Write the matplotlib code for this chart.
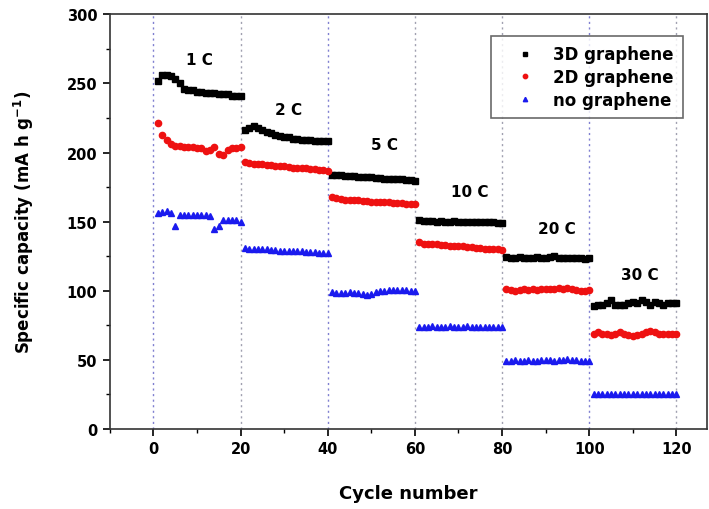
import numpy as np
import matplotlib
matplotlib.use('Agg')
import matplotlib.pyplot as plt
from matplotlib.ticker import MultipleLocator

plt.rcParams['font.family'] = ['DejaVu Sans']
plt.rcParams['font.weight'] = 'bold'
plt.rcParams['mathtext.default'] = 'bf'

# cycle numbers 1..120, six rate steps of 20 cycles
cycles = list(range(1, 121))

cap_3d = [252, 256, 256, 255, 253, 250, 246, 245, 245, 244, 244, 243, 243, 243, 242, 242, 242, 241, 241, 241,
          216, 218, 219, 218, 216, 215, 214, 213, 212, 211, 211, 210, 210, 209, 209, 209, 208, 208, 208, 208,
          184, 184, 183.5, 183, 183, 183, 182.5, 182, 182, 182, 181.5, 181.5, 181, 181, 181, 180.5, 180.5, 180, 180, 179.5,
          151, 150.5, 150.5, 150.5, 150, 150.5, 150, 150, 150.5, 150, 149.5, 150, 150, 149.5, 150, 149.5, 149.5, 149.5, 149, 149,
          124.5, 124, 124, 124.5, 124, 123.5, 124, 124.5, 124, 124, 124.5, 125, 124, 124, 123.5, 124, 124, 123.5, 123, 123.5,
          89, 90, 90, 91, 93, 90, 90, 90, 91, 92, 91, 93, 92, 90, 92, 91, 90, 91, 91, 91]

cap_2d = [221, 213, 209, 206, 205, 205, 204, 204, 204, 203, 203, 201, 202, 204, 199, 198, 202, 203, 203, 204,
          193, 192.5, 192, 192, 191.5, 191, 191, 190.5, 190, 190, 189.5, 189, 189, 188.5, 188.5, 188, 188, 187.5, 187, 186.5,
          168, 167, 166.5, 166, 166, 165.5, 165.5, 165, 165, 164.5, 164.5, 164, 164, 164, 163.5, 163.5, 163.5, 163, 163, 163,
          135, 134, 134, 133.5, 133.5, 133, 133, 132.5, 132.5, 132, 132, 131.5, 131.5, 131, 131, 130.5, 130.5, 130, 130, 129.5,
          101, 100.5, 100, 100.5, 101, 100.5, 101, 100.5, 101, 101.5, 101, 101.5, 102, 101, 102, 101.5, 100.5, 100, 100, 100.5,
          69, 70, 69, 69, 68, 69, 70, 69, 68, 67, 68, 69, 70, 71, 70, 69, 69, 69, 69, 69]

cap_none = [156, 157, 158, 156, 147, 155, 155, 155, 155, 155, 155, 155, 154, 145, 147, 151, 151, 151, 151, 150,
            131, 130.5, 130.5, 130, 130, 130, 129.5, 129.5, 129, 129, 129, 128.5, 128.5, 128.5, 128, 128, 128, 127.5, 127.5, 127,
            99, 98.5, 98.5, 98.5, 99, 98.5, 98, 97.5, 97, 97.5, 99, 99.5, 100, 100.5, 100.5, 100.5, 100.5, 100.5, 100, 100,
            74, 74, 74, 74.5, 74, 74, 74, 74.5, 74, 74, 74, 74.5, 74, 74, 73.5, 74, 74, 74, 73.5, 74,
            49.5, 49.5, 50, 49.5, 49.5, 50, 49.5, 49.5, 50, 50, 50, 49.5, 50, 50, 50.5, 50, 50, 49.5, 49.5, 49,
            25, 25.5, 25, 25, 25.5, 25, 25.5, 25.5, 25, 25, 25.5, 25, 25, 25.5, 25, 25, 25, 25.5, 25, 25]

rate_labels = ['1 C', '2 C', '5 C', '10 C', '20 C', '30 C']
label_x = [10.5, 31, 53, 72.5, 92.5, 111.5]
label_y = [267, 231, 206, 172, 145, 112]
boundaries = [0, 20, 40, 60, 80, 100, 120]
boundary_colors = ['#7f7fd0', '#a0a0b0', '#7f7fd0', '#a0a0b0', '#a0a0b0', '#7f7fd0', '#a0a0b0']

fig = plt.figure(figsize=(7.09, 5.10), dpi=100)
ax = fig.add_axes([0.155, 0.157, 0.842, 0.813])

for b, c in zip(boundaries, boundary_colors):
    ax.axvline(b, color=c, ls=(0, (1.5, 2.5)), lw=1.0, zorder=0)

ax.plot(cycles, cap_3d, 's', color='black', ms=4.3, label='3D graphene')
ax.plot(cycles, cap_2d, 'o', color='#ee1111', ms=4.5, label='2D graphene')
ax.plot(cycles, cap_none, '^', color='#1a1aee', ms=4.5, label='no graphene')

for t, x, y in zip(rate_labels, label_x, label_y):
    ax.text(x, y, t, fontsize=11, fontweight='bold', ha='center', va='center')

ax.set_xlim(-10, 127)
ax.set_ylim(0, 300)
ax.xaxis.set_major_locator(MultipleLocator(20))
ax.xaxis.set_minor_locator(MultipleLocator(10))
ax.yaxis.set_major_locator(MultipleLocator(50))
ax.yaxis.set_minor_locator(MultipleLocator(25))
ax.tick_params(which='major', direction='out', length=5, width=1.2, labelsize=10.5, pad=4)
ax.tick_params(which='minor', direction='out', length=3, width=1.0)
for s in ax.spines.values():
    s.set_linewidth(1.2)
    s.set_color('#333333')

ax.set_xlabel('Cycle number', fontsize=13, fontweight='bold', labelpad=20)
ax.set_ylabel('Specific capacity (mA h g$^{-1}$)', fontsize=12, fontweight='bold', labelpad=22)

leg = ax.legend(loc='upper right', bbox_to_anchor=(0.96, 0.947), borderaxespad=0, fontsize=12,
                frameon=True, fancybox=False, edgecolor='#444444', markerscale=0.7, numpoints=1,
                handlelength=3.0, handletextpad=0.2, borderpad=0.55, labelspacing=0.28)
leg.get_frame().set_linewidth(1.2)

fig.savefig('out.png', dpi=100)
